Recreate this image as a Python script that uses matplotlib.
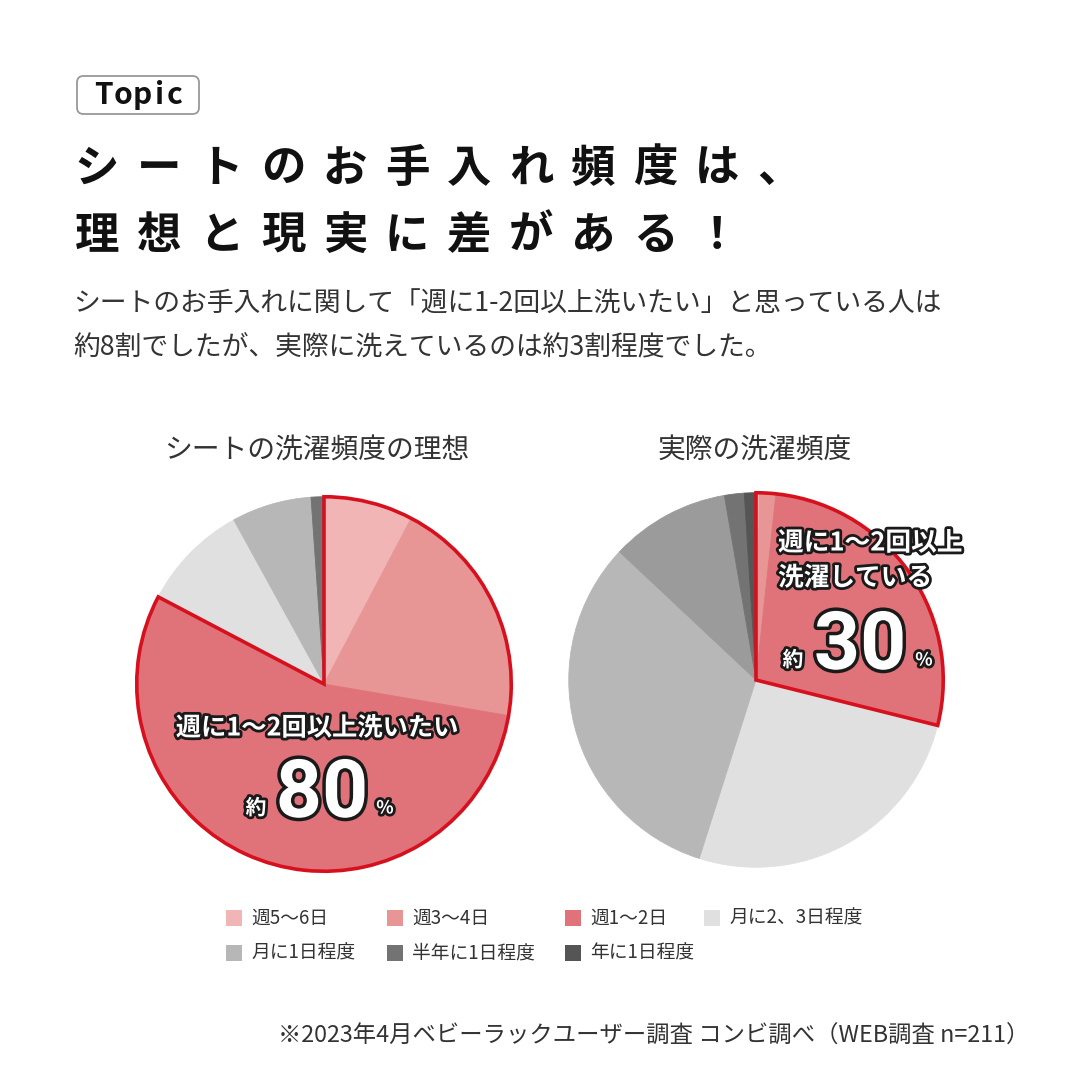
import matplotlib
matplotlib.use("Agg")
import matplotlib.pyplot as plt
import matplotlib.patheffects as pe
from matplotlib.patches import Wedge, FancyBboxPatch, Rectangle
import numpy as np

plt.rcParams['font.family'] = ['Noto Sans CJK JP', 'DejaVu Sans']

# ---------------- data ----------------
categories = ['週5〜6日', '週3〜4日', '週1〜2日', '月に2、3日程度', '月に1日程度',
              'その他', '半年に1日程度', '年に1日程度']
legend_categories = ['週5〜6日', '週3〜4日', '週1〜2日', '月に2、3日程度',
                     '月に1日程度', '半年に1日程度', '年に1日程度']
ideal_values = [7.7, 20.0, 55.0, 9.3, 6.9, 0.0, 1.1, 0.0]
actual_values = [0.3, 1.4, 27.2, 26.0, 32.1, 10.3, 1.7, 1.0]
highlight_count = 3  # first three categories = 週に1〜2回以上

title_line1 = 'シートのお手入れ頻度は、'
title_line2 = '理想と現実に差がある！'
desc_line1 = 'シートのお手入れに関して「週に1-2回以上洗いたい」と思っている人は'
desc_line2 = '約8割でしたが、実際に洗えているのは約3割程度でした。'
pie_titles = ['シートの洗濯頻度の理想', '実際の洗濯頻度']
footnote = '※2023年4月ベビーラックユーザー調査 コンビ調べ（WEB調査 n=211）'

# ---------------- style ----------------
colors = ['#f1b5b5', '#e89595', '#e0727a', '#e0e0e0', '#b7b7b7',
          '#9b9b9b', '#737373', '#555555']
legend_colors = ['#f1b5b5', '#e89595', '#e0727a', '#e0e0e0', '#b7b7b7',
                 '#737373', '#555555']
RED = '#d7101e'
TXT = '#333333'

W = H = 1080
fig = plt.figure(figsize=(10.8, 10.8), dpi=100)
fig.patch.set_facecolor('white')


def fx(x):
    return x / W


def fy(y):
    return 1 - y / H


# Topic box
box = FancyBboxPatch((fx(77), fy(114)), fx(199) - fx(77), fy(76) - fy(114),
                     boxstyle='round,pad=0,rounding_size=0.006',
                     transform=fig.transFigure, facecolor='white',
                     edgecolor='#999999', linewidth=1.3)
fig.add_artist(box)
topic_letters = 'Topic'
topic_x = [103, 123, 142, 160, 174]
for ch, tx in zip(topic_letters, topic_x):
    fig.text(fx(tx), fy(104), ch, ha='center', va='baseline', fontsize=21.5,
             fontweight='bold', color='#111111')

# Title (spaced characters)
pitch = 62
for line, base in ((title_line1, 182), (title_line2, 249)):
    for i, ch in enumerate(line):
        fig.text(fx(97 + i * pitch), fy(base), ch, ha='center', va='baseline',
                 fontsize=32, fontweight='bold', color='#111111')

# Description
fig.text(fx(73), fy(312), desc_line1, ha='left', va='baseline', fontsize=19.3, color=TXT)
fig.text(fx(73), fy(355), desc_line2, ha='left', va='baseline', fontsize=19.3, color=TXT)

# Pie titles
fig.text(fx(317), fy(451), pie_titles[0], ha='center', va='center', fontsize=20, color=TXT)
fig.text(fx(755), fy(451), pie_titles[1], ha='center', va='center', fontsize=20, color=TXT)


def draw_pie(cx, cy, r, values):
    ax = fig.add_axes([fx(cx - r), fy(cy + r), 2 * r / W, 2 * r / H])
    wedges, _ = ax.pie(values, colors=colors, startangle=90, counterclock=False,
                       radius=1)
    for w in wedges:
        w.set_edgecolor(w.get_facecolor())
        w.set_linewidth(0.6)
    total = float(np.sum(values))
    frac = float(np.sum(values[:highlight_count])) / total
    outline = Wedge((0, 0), 1, 90 - 360 * frac, 90, facecolor='none',
                    edgecolor=RED, linewidth=2.6, joinstyle='miter')
    ax.add_patch(outline)
    ax.set_xlim(-1.02, 1.02)
    ax.set_ylim(-1.02, 1.02)
    ax.set_aspect('equal')
    ax.axis('off')
    return ax


draw_pie(324, 684, 191, ideal_values)
draw_pie(756, 680, 191, actual_values)

stroke = [pe.withStroke(linewidth=4, foreground='#1a1a1a')]
stroke_big = [pe.withStroke(linewidth=5, foreground='#1a1a1a')]

# left pie labels
fig.text(fx(317), fy(728), '週に1〜2回以上洗いたい', ha='center', va='center',
         fontsize=18.2, fontweight='bold', color='white', path_effects=stroke)
fig.text(fx(256), fy(808), '約', ha='center', va='center', fontsize=15,
         fontweight='bold', color='white', path_effects=stroke)
fig.text(fx(322), fy(795), '80', ha='center', va='center', fontsize=58,
         fontweight='bold', family=['Roboto', 'DejaVu Sans'], color='white',
         path_effects=stroke_big)
fig.text(fx(385), fy(808), '%', ha='center', va='center', fontsize=13,
         fontweight='bold', color='white', path_effects=stroke)

# right pie labels
fig.text(fx(778), fy(543), '週に1〜2回以上', ha='left', va='center',
         fontsize=18.5, fontweight='bold', color='white', path_effects=stroke)
fig.text(fx(778), fy(578), '洗濯している', ha='left', va='center',
         fontsize=18.5, fontweight='bold', color='white', path_effects=stroke)
fig.text(fx(793), fy(660), '約', ha='center', va='center', fontsize=15,
         fontweight='bold', color='white', path_effects=stroke)
fig.text(fx(860), fy(647), '30', ha='center', va='center', fontsize=58,
         fontweight='bold', family=['Roboto', 'DejaVu Sans'], color='white',
         path_effects=stroke_big)
fig.text(fx(924), fy(660), '%', ha='center', va='center', fontsize=13,
         fontweight='bold', color='white', path_effects=stroke)

# Legend (manual layout)
leg_pos = [(226, 918), (387, 918), (565, 918), (704, 918),
           (226, 953), (387, 953), (565, 953)]
sq = 16
for (lx, ly), lab, col in zip(leg_pos, legend_categories, legend_colors):
    fig.add_artist(Rectangle((fx(lx), fy(ly + sq / 2)), sq / W, sq / H,
                             transform=fig.transFigure, facecolor=col,
                             edgecolor='none'))
    fig.text(fx(lx + sq + 9), fy(ly), lab, ha='left', va='center',
             fontsize=13.5, color=TXT)

# Footnote
fig.text(fx(1029), fy(1036), footnote, ha='right', va='center', fontsize=16.8, color=TXT)

fig.savefig('out.png', dpi=100, facecolor='white')
